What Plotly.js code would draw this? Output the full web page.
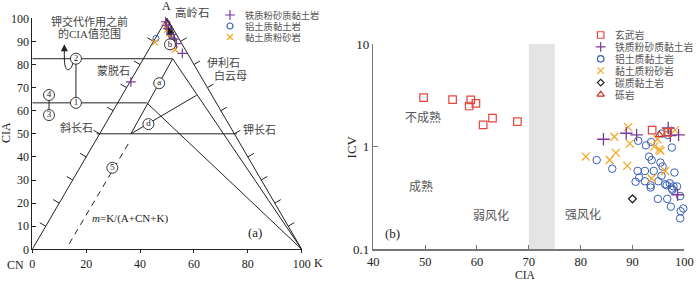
<!DOCTYPE html>
<html><head><meta charset="utf-8">
<script src="https://cdn.plot.ly/plotly-3.0.1.min.js"></script>
<style>body{margin:0;background:#fff}#chart{width:700px;height:283px}</style>
</head><body><div id="chart"></div>
<script>
// ================= Panel (a): A-CN-K diagram  (x = K + A/2, y = CIA) =================
const aFeSiltX   = [49.5, 49.8, 50.5, 51.5, 52.5, 53.5, 55.7, 36.6];
const aFeSiltCIA = [98.5, 97.0, 95.5, 93.0, 91.0, 89.0, 84.8, 72.5];
const aBauxX     = [45.9, 50.2, 51.0, 51.6, 52.3];
const aBauxCIA   = [91.3, 96.0, 94.0, 92.5, 90.5];
const aClaySiltX   = [45.6, 49.5, 50.0, 50.8, 51.5, 52.5, 52.2, 53.0];
const aClaySiltCIA = [89.6, 96.5, 95.0, 93.5, 91.5, 89.0, 87.5, 86.5];

// ================= Panel (b): CIA vs ICV =================
const basaltCIA = [49.7, 55.3, 58.8, 59.8, 58.5, 63.0, 61.2, 67.8, 93.8, 96.8];
const basaltICV = [3.00, 2.87, 2.85, 2.64, 2.49, 1.90, 1.63, 1.75, 1.45, 1.38];
const feSiltCIA = [84.4, 88.8, 90.8, 96.9, 97.3, 98.9, 98.7];
const feSiltICV = [1.18, 1.35, 1.30, 1.52, 1.28, 1.30, 0.34];
const bauxCIA = [83.1, 86.1, 91.1, 92.6, 93.6, 93.2, 93.7, 91.0, 91.3, 90.6, 92.4, 92.4, 93.5, 93.5, 94.1,
                 95.0, 95.4, 95.8, 95.6, 96.6, 97.2, 97.6, 97.9, 97.7, 98.6, 98.1, 94.9, 96.7, 97.4, 99.2,
                 99.3, 99.8, 99.2, 97.6, 96.8, 95.6, 96.3];
const bauxICV = [0.74, 0.61, 1.14, 1.03, 1.11, 0.80, 0.74, 0.58, 0.50, 0.455, 0.58, 0.46, 0.42, 0.40, 0.58,
                 0.46, 0.70, 0.64, 0.52, 0.42, 0.44, 0.39, 0.41, 0.38, 0.41, 0.56, 0.31, 0.31, 0.26, 0.33,
                 0.235, 0.25, 0.20, 0.98, 1.30, 1.34, 0.43];
const claySiltCIA = [81.0, 85.6, 86.5, 86.8, 89.0, 89.2, 89.5, 93.7, 94.2, 94.8, 95.2, 95.4, 96.3, 96.6, 98.2];
const claySiltICV = [0.80, 0.74, 1.25, 0.87, 0.65, 1.55, 1.07, 0.49, 1.00, 1.18, 0.94, 0.91, 0.58, 1.40, 1.45];
const carbCIA = [90.0];
const carbICV = [0.31];
const conglCIA = [95.2];
const conglICV = [1.30];

const legendA = ['铁质粉砂质黏土岩', '铝土质黏土岩', '黏土质粉砂岩'];
const legendB = ['玄武岩', '铁质粉砂质黏土岩', '铝土质黏土岩', '黏土质粉砂岩', '碳质黏土岩', '砾岩'];
const ticksA_x = [0, 20, 40, 60, 80, 100];
const ticksB_y = [0.1, 1, 10];
const ticksB_yText = ['0.1', '1', '10'];

// ---- diagram construction lines (panel a) ----
const refSolid = [
  [[0, 50, 100], [0, 100, 0]],            // triangle edges
  [[0, 52.1, 100], [82.5, 82.5, 0]],      // ② level and illite/muscovite–K trend
  [[0, 42.5, 100], [63.4, 63.4, 0]],      // ① level
  [[23.9, 75.9], [50, 50]],               // feldspar join
  [[36.6, 52.1], [50, 82.5]],             // weathering trend
  [[36.6, 61.0], [50, 66.7]],             // d trend
  [[16.2, 16.2], [63.4, 82.5]],           // ①–②
  [[6.2, 6.2], [58.1, 66.8]]              // ③–④
];
const refDashed = [[13.7, 35.7], [2.4, 45.8]];
const circled = {x: [16.2, 16.2, 6.2, 6.2, 29.7, 47.1, 43.1, 51.1],
                 y: [63.4, 82.5, 58.1, 66.8, 35.3, 71.9, 54.2, 88.7],
                 t: ['1', '2', '3', '4', '5', 'a', 'd', 'b']};

const C_PURPLE = '#7b3a96', C_BLUE = '#3a5fb6', C_ORANGE = '#f6a623', C_RED = '#e8443a',
      C_TRI = '#c8372d', C_DARK = '#222';

const traces = [];
function addLines(segs, dash) {
  const xs = [], ys = [];
  segs.forEach(s => { xs.push(...s[0], null); ys.push(...s[1], null); });
  traces.push({type: 'scatter', mode: 'lines', x: xs, y: ys, xaxis: 'x', yaxis: 'y',
    line: {color: C_DARK, width: 1, dash: dash || 'solid'}, cliponaxis: false, hoverinfo: 'skip'});
}
// edge ticks (perpendicular, outward)
const tickSegs = [];
for (let t = 10; t <= 90; t += 10) {
  tickSegs.push([[t / 2, t / 2 - 2.25], [t, t + 1.53]]);
  tickSegs.push([[100 - t / 2, 100 - t / 2 + 2.25], [t, t + 1.53]]);
}
tickSegs.push([[50, 47.75], [100, 101.53]], [[50, 52.25], [100, 101.53]], [[100, 102.25], [0, 1.53]]);
addLines(refSolid.concat(tickSegs));
addLines([refDashed], '6px,5px');

// hooked arrow from ② and loop near apex
const hook = [[15.3, 14.3, 13.1, 12.2, 11.9, 11.9], [81.2, 78.5, 77.7, 79.3, 82.8, 86.2]];
traces.push({type: 'scatter', mode: 'lines', x: hook[0], y: hook[1], xaxis: 'x', yaxis: 'y',
  line: {color: C_DARK, width: 1, shape: 'spline'}, hoverinfo: 'skip', cliponaxis: false});
(function () {
  const cx = 51.43, cy = 93.45, ax = 1.53, ay = -5.75, bx = 0.85, by = 0.3;
  const lx = [], ly = [];
  for (let i = 0; i <= 40; i++) {
    const a = i / 40 * 2 * Math.PI;
    lx.push(cx + ax * Math.cos(a) + bx * Math.sin(a));
    ly.push(cy + ay * Math.cos(a) + by * Math.sin(a));
  }
  traces.push({type: 'scatter', mode: 'lines', x: lx, y: ly, xaxis: 'x', yaxis: 'y',
    line: {color: C_DARK, width: 1.6}, hoverinfo: 'skip', cliponaxis: false});
})();

// data (a)
traces.push({type: 'scatter', mode: 'markers', x: aBauxX, y: aBauxCIA, xaxis: 'x', yaxis: 'y', cliponaxis: false,
  marker: {symbol: 'circle-open', size: 6, color: C_BLUE, line: {width: 1}}});
traces.push({type: 'scatter', mode: 'markers', x: aClaySiltX, y: aClaySiltCIA, xaxis: 'x', yaxis: 'y', cliponaxis: false,
  marker: {symbol: 'x-thin-open', size: 6, color: C_ORANGE, line: {width: 1.2, color: C_ORANGE}}});
traces.push({type: 'scatter', mode: 'markers', x: aFeSiltX, y: aFeSiltCIA, xaxis: 'x', yaxis: 'y', cliponaxis: false,
  marker: {symbol: 'cross-thin-open', size: 7, color: C_PURPLE, line: {width: 1.2, color: C_PURPLE}}});

// circled labels
traces.push({type: 'scatter', mode: 'markers+text', x: circled.x, y: circled.y, text: circled.t,
  xaxis: 'x', yaxis: 'y', cliponaxis: false, textposition: 'middle center',
  textfont: {size: 9, color: C_DARK, family: 'Liberation Serif'},
  marker: {symbol: 'circle', size: 11, color: 'white', line: {color: C_DARK, width: 0.9}}, hoverinfo: 'skip'});

// data (b)
function addB(x, y, symbol, size, color, lw) {
  traces.push({type: 'scatter', mode: 'markers', x: x, y: y, xaxis: 'x2', yaxis: 'y2', cliponaxis: false,
    marker: {symbol: symbol, size: size, color: color, line: {width: lw, color: color}}});
}
addB(bauxCIA, bauxICV, 'circle-open', 7.5, C_BLUE, 1);
addB(claySiltCIA, claySiltICV, 'x-thin-open', 8, C_ORANGE, 1.3);
addB(feSiltCIA, feSiltICV, 'cross-thin-open', 9, C_PURPLE, 1.3);
addB(basaltCIA, basaltICV, 'square-open', 7.5, C_RED, 1.2);
addB(carbCIA, carbICV, 'diamond-open', 6, C_DARK, 1.3);
addB(conglCIA, conglICV, 'triangle-up-open', 7, C_TRI, 1.2);

// custom compact legends (pixel overlay axis x3/y3)
const legA = {x: 230, y0: 15, dy: 11, sym: ['cross-thin-open', 'circle-open', 'x-thin-open'],
  col: [C_PURPLE, C_BLUE, C_ORANGE], size: [7, 6, 6]};
const legB = {x: 600.7, y0: 35, dy: 11.9,
  sym: ['square-open', 'cross-thin-open', 'circle-open', 'x-thin-open', 'diamond-open', 'triangle-up-open'],
  col: [C_RED, C_PURPLE, C_BLUE, C_ORANGE, C_DARK, C_TRI], size: [6.5, 7, 6.5, 6.5, 5, 6.5]};
const annotations = [];
[[legA, legendA, 9.3], [legB, legendB, 9.8]].forEach(([L, names, fs]) => {
  names.forEach((n, i) => {
    const yy = L.y0 + i * L.dy;
    traces.push({type: 'scatter', mode: 'markers', x: [L.x], y: [yy], xaxis: 'x3', yaxis: 'y3',
      cliponaxis: false, hoverinfo: 'skip',
      marker: {symbol: L.sym[i], size: L.size[i], color: L.col[i], line: {width: 1.2, color: L.col[i]}}});
    annotations.push({xref: 'x3', yref: 'y3', x: L.x + 12.5, y: yy, xanchor: 'left', yanchor: 'middle',
      text: n, showarrow: false, font: {size: fs, color: '#555', family: 'Noto Sans CJK SC'}});
  });
});

function txt(x, y, s, o) {
  annotations.push(Object.assign({xref: 'x3', yref: 'y3', x: x, y: y, text: s, showarrow: false,
    xanchor: 'center', yanchor: 'middle', font: {size: 11, color: '#444'}}, o || {}));
}
const serif = 'Liberation Serif';
txt(166.7, 6, 'A', {font: {size: 12, color: '#222', family: serif}});
txt(173, 12, '高岭石', {xanchor: 'left', font: {size: 11.5, color: '#444'}});
txt(89.3, 21.5, '钾交代作用之前', {font: {size: 11, color: '#444'}});
txt(89.3, 33.3, '的CIA值范围', {font: {size: 11, color: '#444'}});
txt(113.3, 70, '蒙脱石');
txt(223.3, 63.3, '伊利石');
txt(230, 75.5, '白云母');
txt(76.7, 128.3, '斜长石');
txt(259.3, 129.3, '钾长石');
txt(90, 218.3, '<i>m</i>=K/(A+CN+K)', {xanchor: 'left', font: {size: 11, color: '#222', family: serif}});
txt(255, 232.3, '(a)', {font: {size: 13, color: '#222', family: serif}});
txt(15, 265, 'CN', {font: {size: 12, color: '#222', family: serif}});
txt(318, 263, 'K', {font: {size: 12, color: '#222', family: serif}});
txt(6, 133, 'CIA', {textangle: -90, font: {size: 12, color: '#222', family: serif}});
txt(351.7, 146.7, 'ICV', {textangle: -90, font: {size: 13, color: '#222', family: serif}});
txt(525, 282.8, 'CIA', {yanchor: 'bottom', font: {size: 11.5, color: '#222', family: serif}});

// panel (b) labels in data coords
function txtB(x, y, s, o) {
  annotations.push(Object.assign({xref: 'x2', yref: 'y2', x: x, y: Math.log10(y), text: s, showarrow: false,
    font: {size: 12, color: '#555', family: 'Noto Sans CJK SC'}}, o || {}));
}
txtB(49.6, 1.96, '不成熟');
txtB(49.3, 0.414, '成熟');
txtB(62.8, 0.219, '弱风化');
txtB(80.5, 0.224, '强风化');
txtB(43.7, 0.143, '(b)', {font: {size: 13, color: '#222', family: serif}});

// arrowheads (panel a)
annotations.push({xref: 'x', yref: 'y', x: 11.9, y: 88.8, ax: 0, ay: 9, axref: 'pixel', ayref: 'pixel',
  text: '', showarrow: true, arrowhead: 2, arrowsize: 1.4, arrowwidth: 1, arrowcolor: C_DARK});
annotations.push({xref: 'x', yref: 'y', x: 50.4, y: 96.2, ax: 4, ay: 10,
  text: '', showarrow: true, arrowhead: 2, arrowsize: 1.2, arrowwidth: 1.2, arrowcolor: C_DARK});

const yDom = [1 - 249.3 / 283, 1 - 18.3 / 283];
const axBase = {showgrid: false, zeroline: false, showline: true, fixedrange: true};
const layout = {
  width: 700, height: 283, margin: {l: 0, r: 0, t: 0, b: 0},
  paper_bgcolor: 'white', plot_bgcolor: 'rgba(0,0,0,0)', showlegend: false,
  font: {family: "Liberation Serif, 'Noto Sans CJK SC'", size: 12, color: '#222'},
  xaxis: Object.assign({}, axBase, {domain: [32.3 / 700, 301.7 / 700], range: [0, 100], anchor: 'y',
    tickvals: ticksA_x, linecolor: '#222', linewidth: 1, ticks: 'outside', ticklen: 3, tickcolor: '#222',
    tickfont: {size: 12, color: '#222'}}),
  yaxis: Object.assign({}, axBase, {domain: yDom, range: [0, 100], dtick: 10, anchor: 'x',
    linecolor: '#222', linewidth: 1, ticks: 'inside', ticklen: 4, tickcolor: '#222',
    tickfont: {size: 12, color: '#222'}}),
  xaxis2: Object.assign({}, axBase, {domain: [373.3 / 700, 684.3 / 700], range: [40, 100], dtick: 10,
    anchor: 'y2', linecolor: '#777', linewidth: 1.5, ticks: 'inside', ticklen: 4, tickcolor: '#777',
    tickfont: {size: 12.5, color: '#222'}}),
  yaxis2: Object.assign({}, axBase, {domain: [1 - 249.3 / 283, 1 - 44 / 283], type: 'log', range: [-1, 1],
    anchor: 'x2', tickvals: ticksB_y, ticktext: ticksB_yText, linecolor: '#777', linewidth: 1.5,
    ticks: 'inside', ticklen: 5, tickcolor: '#777', tickfont: {size: 13, color: '#222'}}),
  xaxis3: {domain: [0, 1], range: [0, 700], visible: false, anchor: 'y3', fixedrange: true},
  yaxis3: {domain: [0, 1], range: [283, 0], visible: false, anchor: 'x3', fixedrange: true},
  shapes: [
    {type: 'rect', xref: 'x2', yref: 'y2 domain', x0: 70, x1: 75, y0: 0, y1: 1,
      fillcolor: '#e4e4e4', line: {width: 0}, layer: 'below'},
    {type: 'line', xref: 'x2', yref: 'y2', x0: 40, x1: 100, y0: 0, y1: 0,
      line: {color: '#333', width: 1.5, dash: 'dot'}}
  ],
  annotations: annotations
};
Plotly.newPlot('chart', traces, layout, {staticPlot: true, displayModeBar: false});
</script></body></html>
